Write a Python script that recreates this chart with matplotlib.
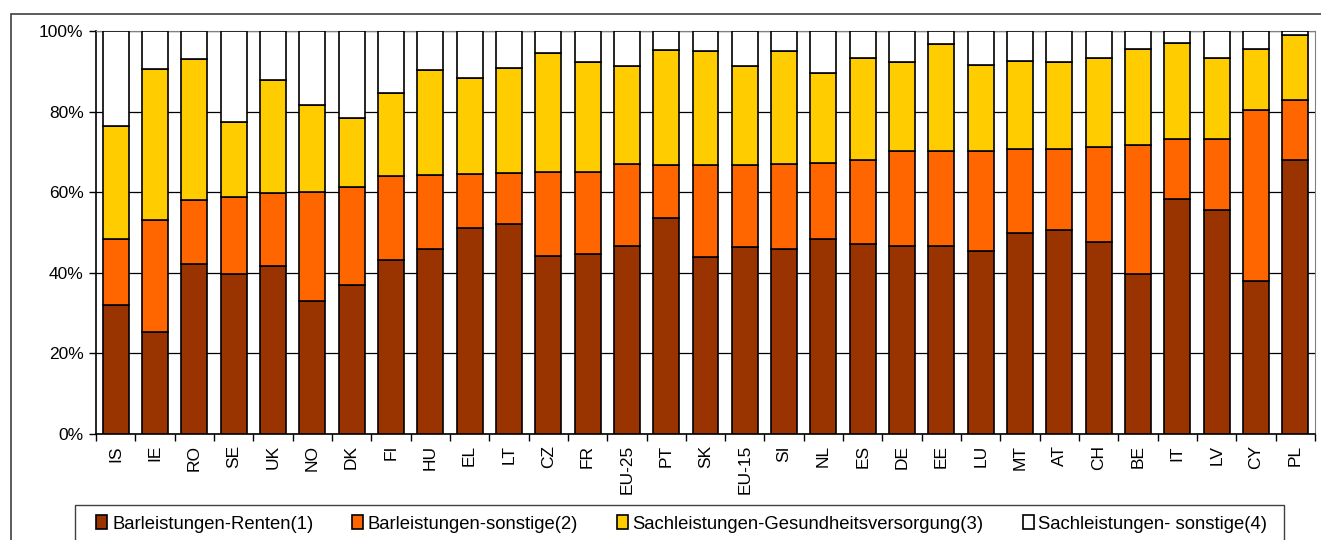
import matplotlib.pyplot as plt
import numpy as np
from matplotlib.patches import Rectangle
from matplotlib.ticker import FixedLocator, PercentFormatter

plt.rcParams['font.family'] = ['Liberation Sans', 'DejaVu Sans']

countries = ["IS", "IE", "RO", "SE", "UK", "NO", "DK", "FI", "HU", "EL", "LT", "CZ",
             "FR", "EU-25", "PT", "SK", "EU-15", "SI", "NL", "ES", "DE", "EE", "LU",
             "MT", "AT", "CH", "BE", "IT", "LV", "CY", "PL"]

# shares in percent of total social benefits
renten = [31.9, 25.2, 42.1, 39.8, 41.7, 33.1, 36.9, 43.3, 46.0, 51.1, 52.1, 44.2,
          44.6, 46.7, 53.6, 44.0, 46.4, 45.8, 48.4, 47.2, 46.7, 46.7, 45.4,
          50.0, 50.7, 47.7, 39.8, 58.3, 55.6, 38.0, 67.9]
bar_sonstige = [16.6, 27.8, 15.9, 19.1, 18.1, 26.9, 24.3, 20.8, 18.3, 13.4, 12.6, 20.7,
                20.4, 20.2, 13.2, 22.8, 20.4, 21.1, 18.8, 20.9, 23.5, 23.5, 24.8,
                20.7, 20.0, 23.5, 32.0, 14.8, 17.6, 42.3, 15.1]
gesundheit = [27.9, 37.6, 35.1, 18.6, 28.0, 21.7, 17.1, 20.6, 25.9, 23.9, 26.0, 29.6,
              27.4, 24.5, 28.4, 28.2, 24.4, 28.1, 22.4, 25.1, 22.2, 26.6, 21.3,
              21.9, 21.5, 22.0, 23.8, 23.8, 20.0, 15.2, 16.0]
sach_sonstige = [23.6, 9.4, 6.9, 22.5, 12.2, 18.3, 21.7, 15.3, 9.8, 11.6, 9.3, 5.5,
                 7.6, 8.6, 4.8, 5.0, 8.8, 5.0, 10.4, 6.8, 7.6, 3.2, 8.5,
                 7.4, 7.8, 6.8, 4.4, 3.1, 6.8, 4.5, 1.0]

series = [renten, bar_sonstige, gesundheit, sach_sonstige]
labels = ["Barleistungen-Renten(1)", "Barleistungen-sonstige(2)",
          "Sachleistungen-Gesundheitsversorgung(3)", "Sachleistungen- sonstige(4)"]
colors = ["#993300", "#FF6600", "#FFCC00", "#FFFFFF"]

W, H = 1321, 540
fig = plt.figure(figsize=(W / 100, H / 100), dpi=100)
ax = fig.add_axes([96 / W, 1 - 434 / H, (1315 - 96) / W, (434 - 31) / H])

x = np.arange(len(countries))
bottom = np.zeros(len(countries))
handles = []
for vals, lab, col in zip(series, labels, colors):
    vals = np.array(vals)
    b = ax.bar(x, vals, 0.66, bottom=bottom, color=col, edgecolor="black",
               linewidth=1.2, label=lab, zorder=3)
    handles.append(b)
    bottom += vals

ax.set_xlim(-0.5, len(countries) - 0.5)
ax.set_ylim(0, 100)
ax.set_yticks(np.arange(0, 101, 20))
ax.yaxis.set_major_formatter(PercentFormatter(decimals=0))
ax.grid(axis="y", color="black", linewidth=0.9, zorder=0)

ax.set_xticks(x)
ax.set_xticklabels(countries, rotation=90, fontsize=12.5)
ax.xaxis.set_minor_locator(FixedLocator(np.arange(-0.5, len(countries), 1)))
ax.tick_params(axis="x", which="major", length=0, pad=8)
ax.tick_params(axis="x", which="minor", length=5, width=1, direction="out")
ax.tick_params(axis="y", length=5, width=1, labelsize=12.5, pad=4)

for s in ["top", "right"]:
    ax.spines[s].set_color("#808080")
for s in ["left", "bottom"]:
    ax.spines[s].set_color("black")
    ax.spines[s].set_linewidth(1.2)

# outer chart frame and legend box
fig.patches.append(Rectangle((11 / W, -0.02), 1.0, 0.02 + 1 - 14 / H,
                             transform=fig.transFigure, fill=False,
                             edgecolor="#404040", linewidth=1.2))
fig.patches.append(Rectangle((75 / W, -0.02), (1284 - 75) / W, 0.02 + 1 - 505 / H,
                             transform=fig.transFigure, fill=False,
                             edgecolor="#404040", linewidth=1.0))

fig.legend(handles, labels, loc="center left", bbox_to_anchor=(89 / W, 1 - 524 / H),
           ncol=4, frameon=False, fontsize=13.3, handlelength=0.6, handleheight=0.75,
           handletextpad=0.25, columnspacing=2.1, borderaxespad=0)

fig.savefig("out.png", dpi=100)
